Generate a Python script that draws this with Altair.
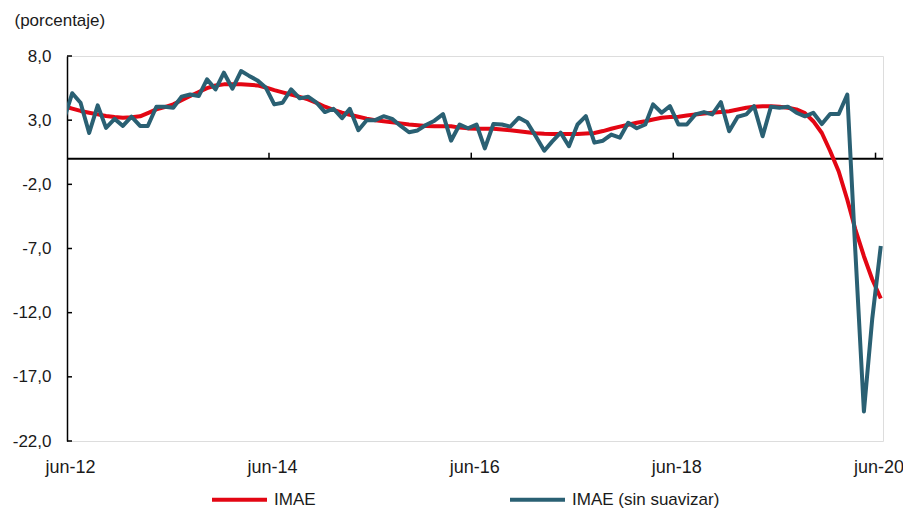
import altair as alt
import pandas as pd

# ---- data (may-12 .. jun-20, monthly) ----
series_names = ["IMAE", "IMAE (sin suavizar)"]

imae = [4.1,
        3.9, 3.72, 3.58, 3.45, 3.32, 3.24, 3.19, 3.22, 3.3, 3.55,
        3.84, 4.02, 4.23, 4.55, 4.88, 5.2, 5.5, 5.7, 5.79, 5.8,
        5.79, 5.76, 5.71, 5.55, 5.34, 5.17, 5.0, 4.82, 4.62, 4.35,
        4.05, 3.8, 3.58, 3.42, 3.27, 3.12, 3.0, 2.92, 2.84, 2.75,
        2.66, 2.6, 2.55, 2.53, 2.53, 2.52, 2.42, 2.36, 2.33, 2.33,
        2.33, 2.28, 2.22, 2.14, 2.06, 1.98, 1.94, 1.92, 1.92, 1.92,
        1.93, 1.96, 2.0, 2.15, 2.33, 2.5, 2.64, 2.8, 2.92, 3.05,
        3.19, 3.24, 3.27, 3.36, 3.45, 3.52, 3.58, 3.64, 3.7, 3.83,
        3.97, 4.04, 4.09, 4.08, 4.05, 3.97, 3.84, 3.55, 2.92, 2.0,
        0.6, -1.0, -3.2, -5.5, -7.6, -9.4, -10.9]

imae_sin_suavizar = [3.0,
        5.1, 4.36, 2.0, 4.15, 2.4, 3.1, 2.55, 3.27, 2.55, 2.55,
        4.05, 4.05, 3.97, 4.83, 5.0, 4.88, 6.18, 5.4, 6.7, 5.45,
        6.83, 6.47, 6.1, 5.55, 4.23, 4.36, 5.4, 4.7, 4.83, 4.36,
        3.63, 3.89, 3.15, 3.89, 2.22, 3.0, 3.0, 3.31, 3.1, 2.55,
        2.06, 2.2, 2.62, 2.96, 3.47, 1.4, 2.66, 2.37, 2.66, 0.8,
        2.7, 2.66, 2.5, 3.19, 2.84, 1.75, 0.62, 1.33, 2.03, 0.97,
        2.66, 3.31, 1.25, 1.4, 1.88, 1.63, 2.8, 2.37, 2.66, 4.23,
        3.58, 4.09, 2.66, 2.66, 3.45, 3.63, 3.45, 4.41, 2.14, 3.27,
        3.45, 4.09, 1.75, 4.05, 3.97, 4.05, 3.58, 3.3, 3.58, 2.7,
        3.48, 3.48, 5.0, -7.2, -19.7, -12.5, -6.8]

# observation dates (plotted near the 20th of each month, as in the source)
fechas = pd.date_range("2012-05-01", periods=len(imae), freq="MS") + pd.Timedelta(days=19)

y_ticks = [8, 3, -2, -7, -12, -17, -22]
x_label_years = [2012, 2014, 2016, 2018, 2020]

RED = "#E30613"
BLUE = "#2A6073"
FONT = "Liberation Sans"

df = pd.concat([
    pd.DataFrame({"fecha": fechas, "valor": imae, "serie": series_names[0]}),
    pd.DataFrame({"fecha": fechas, "valor": imae_sin_suavizar, "serie": series_names[1]}),
], ignore_index=True)

x_start = alt.DateTime(year=2012, month=6, date=1)
x_end = alt.DateTime(year=2020, month=6, date=28)
x_scale = alt.Scale(domain=[x_start, x_end])
y_scale = alt.Scale(domain=[-22, 8], nice=False, zero=False)

x_axis = alt.Axis(
    values=[alt.DateTime(year=y, month=6, date=1) for y in x_label_years],
    labelExpr="lower(timeFormat(datum.value, '%b-%y'))",
    domain=False, ticks=False, grid=False, title=None,
    labelPadding=17, labelOffset=3, labelFontSize=18, labelFont=FONT,
    labelColor="#1a1a1a", labelFlush=False, labelOverlap=False, labelBound=False,
)
y_axis = alt.Axis(
    values=y_ticks,
    labelExpr="(datum.value < 0 ? '-' : '') + replace(format(abs(datum.value), '.1f'), '.', ',')",
    ticks=False, grid=False, domainColor="black", domainWidth=1.5,
    labelPadding=16, labelFontSize=17, labelFont=FONT, labelColor="#1a1a1a",
    title="(porcentaje)", titleAngle=0, titleX=-53, titleY=-31,
    titleAlign="left", titleBaseline="alphabetic", titleFontWeight="normal",
    titleFontSize=17, titleFont=FONT, titleColor="#1a1a1a",
)

lines = alt.Chart(df).mark_line(strokeWidth=4, clip=True, strokeJoin="round").encode(
    x=alt.X("fecha:T", scale=x_scale, axis=x_axis),
    y=alt.Y("valor:Q", scale=y_scale, axis=y_axis),
    color=alt.Color(
        "serie:N",
        scale=alt.Scale(domain=series_names, range=[RED, BLUE]),
        legend=alt.Legend(
            orient="none", legendX=143, legendY=414, direction="horizontal",
            title=None, symbolType="stroke", symbolSize=3025, symbolStrokeWidth=4,
            labelFontSize=17, labelFont=FONT, labelColor="#1a1a1a",
            labelOffset=5, columnPadding=186, padding=0,
        ),
    ),
    detail="serie:N",
)

zero_line = alt.Chart(pd.DataFrame({"v": [0]})).mark_rule(
    color="black", strokeWidth=2
).encode(y=alt.Y("v:Q", scale=y_scale))

tick_dates = pd.DataFrame({"t": [pd.Timestamp(year=y, month=6, day=1) for y in x_label_years[1:]]})
x_ticks = alt.Chart(tick_dates).mark_rule(color="black", strokeWidth=1.5, yOffset=-6).encode(
    x=alt.X("t:T", scale=x_scale),
    y=alt.datum(0),
    y2=alt.datum(0),
)

y_tick_df = pd.DataFrame({"v": y_ticks})
y_tick_marks = alt.Chart(y_tick_df).mark_rule(color="black", strokeWidth=1.5, x2Offset=5).encode(
    y=alt.Y("v:Q", scale=y_scale),
    x=alt.datum(x_start),
    x2=alt.datum(x_start),
)

chart = alt.layer(zero_line, x_ticks, y_tick_marks, lines).properties(
    width=816, height=385,
    autosize=alt.AutoSizeParams(type="none"),
    padding={"left": 59, "top": 48, "right": 20, "bottom": 67},
).configure_view(stroke=None).configure(font=FONT)

chart.save("out.html", embed_options={"renderer": "svg", "actions": False})
